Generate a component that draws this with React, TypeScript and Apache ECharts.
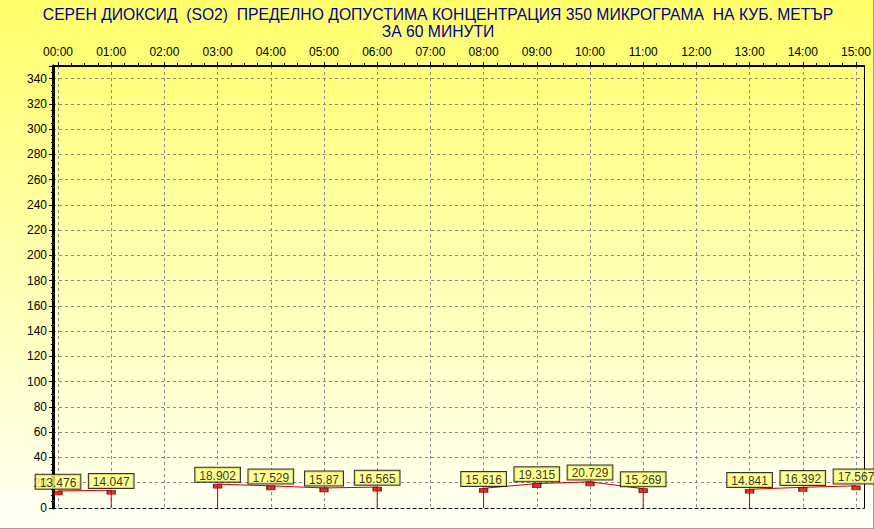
import React, { useEffect, useRef } from "react";
import * as echarts from "echarts";

const titleLines = [
  "СЕРЕН ДИОКСИД  (SO2)  ПРЕДЕЛНО ДОПУСТИМА КОНЦЕНТРАЦИЯ 350 МИКРОГРАМА  НА КУБ. МЕТЪР",
  "ЗА 60 МИНУТИ",
];
const xTickLabels = [
  "00:00", "01:00", "02:00", "03:00", "04:00", "05:00", "06:00", "07:00",
  "08:00", "09:00", "10:00", "11:00", "12:00", "13:00", "14:00", "15:00",
];
const hours = [0, 1, 3, 4, 5, 6, 8, 9, 10, 11, 13, 14, 15];
const values = [
  13.476, 14.047, 18.902, 17.529, 15.87, 16.565, 15.616, 19.315, 20.729,
  15.269, 14.841, 16.392, 17.567,
];
const yMin = 0;
const yMax = 350;
const yStep = 20;

const FONT = "'Liberation Sans', Arial, sans-serif";

export default function App() {
  const ref = useRef<HTMLDivElement>(null);

  useEffect(() => {
    if (!ref.current) return;
    const chart = echarts.init(ref.current, null, { renderer: "svg" });

    // line path: drop to zero around missing hours
    const path: any[] = [];
    hours.forEach((h, i) => {
      if (i > 0 && h - hours[i - 1] > 1) {
        path.push([hours[i - 1], 0]);
        path.push([(hours[i - 1] + h) / 2, null]);
        path.push([h, 0]);
      }
      path.push([h, values[i]]);
    });
    const points = hours.map((h, i) => [h, values[i]]);

    const grayDash = { color: "#8a8a8a", width: 1, type: [3, 3] as any };

    chart.setOption({
      animation: false,
      backgroundColor: {
        type: "linear",
        x: 0,
        y: 0,
        x2: 0,
        y2: 1,
        colorStops: [
          { offset: 0, color: "#ffff6a" },
          { offset: 0.5, color: "#ffffae" },
          { offset: 1, color: "#fffff6" },
        ],
      },
      textStyle: { fontFamily: FONT },
      graphic: [
        {
          type: "text",
          x: 438,
          y: 6,
          style: {
            text: titleLines.join("\n"),
            fill: "#000090",
            font: `15.7px ${FONT}`,
            lineHeight: 17,
            textAlign: "center",
            textVerticalAlign: "top",
          },
          z: 10,
        },
        {
          type: "line",
          shape: { x1: 0, y1: 528.5, x2: 874, y2: 528.5 },
          style: { stroke: "#a0a0a0", lineWidth: 1 },
        },
        {
          type: "line",
          shape: { x1: 873.5, y1: 0, x2: 873.5, y2: 529 },
          style: { stroke: "#a0a0a0", lineWidth: 1 },
        },
      ],
      grid: [
        { left: 53, right: 10, top: 66, bottom: 21 },
        { left: 58, right: 14, top: 66, bottom: 21 },
      ],
      xAxis: [
        {
          gridIndex: 0,
          type: "value",
          min: 0,
          max: 1,
          position: "top",
          axisLine: { show: true, onZero: false, lineStyle: { color: "#000", width: 2 } },
          axisTick: { show: false },
          axisLabel: { show: false },
          splitLine: { show: false },
        },
        {
          gridIndex: 0,
          type: "value",
          min: 0,
          max: 1,
          position: "bottom",
          axisLine: { show: true, onZero: false, lineStyle: { color: "#000", width: 1, type: [3, 3] } },
          axisTick: { show: false },
          axisLabel: { show: false },
          splitLine: { show: false },
        },
        {
          gridIndex: 1,
          type: "value",
          min: 0,
          max: xTickLabels.length - 1,
          interval: 1,
          position: "top",
          axisLine: { show: false, onZero: false },
          axisTick: { show: true, length: 4, lineStyle: { color: "#000" } },
          minorTick: { show: true, splitNumber: 4, length: 3, lineStyle: { color: "#000" } },
          axisLabel: {
            show: true,
            margin: 8,
            color: "#000",
            fontSize: 12,
            fontFamily: FONT,
            formatter: (v: number) => xTickLabels[Math.round(v)] ?? "",
          },
          splitLine: { show: true, lineStyle: grayDash },
        },
      ],
      yAxis: [
        {
          gridIndex: 0,
          type: "value",
          min: yMin,
          max: yMax,
          interval: yStep,
          position: "left",
          axisLine: { show: true, onZero: false, lineStyle: { color: "#000", width: 3 } },
          axisTick: { show: true, length: 4, lineStyle: { color: "#000" } },
          minorTick: { show: true, splitNumber: 4, length: 2, lineStyle: { color: "#000" } },
          axisLabel: {
            show: true,
            margin: 6,
            color: "#000",
            fontSize: 12,
            fontFamily: FONT,
            formatter: (v: number) => (v % yStep === 0 && v < yMax ? String(v) : ""),
          },
          splitLine: { show: true, lineStyle: grayDash },
        },
        {
          gridIndex: 0,
          type: "value",
          min: yMin,
          max: yMax,
          position: "right",
          axisLine: { show: true, onZero: false, lineStyle: { color: "#000", width: 1 } },
          axisTick: { show: false },
          axisLabel: { show: false },
          splitLine: { show: false },
        },
        {
          gridIndex: 1,
          type: "value",
          min: yMin,
          max: yMax,
          show: false,
          splitLine: { show: false },
        },
      ],
      series: [
        {
          type: "line",
          xAxisIndex: 2,
          yAxisIndex: 2,
          data: path,
          showSymbol: false,
          symbol: "none",
          connectNulls: false,
          lineStyle: { color: "#cc0000", width: 1 },
          z: 3,
        },
        {
          type: "scatter",
          xAxisIndex: 2,
          yAxisIndex: 2,
          data: points,
          symbol: "rect",
          symbolSize: [8, 4],
          symbolOffset: [0, 2],
          itemStyle: { color: "#e00000", borderColor: "#700000", borderWidth: 1 },
          label: {
            show: true,
            position: "top",
            distance: 2,
            formatter: (p: any) => String(p.value[1]),
            color: "#000",
            fontSize: 12,
            fontFamily: FONT,
            backgroundColor: "#ffff80",
            borderColor: "#000",
            borderWidth: 1,
            padding: [2, 4, 0, 4],
          },
          z: 5,
        },
      ],
    });

    return () => chart.dispose();
  }, []);

  return (
    <div
      ref={ref}
      style={{ position: "fixed", left: 0, top: 0, width: 874, height: 529 }}
    />
  );
}
